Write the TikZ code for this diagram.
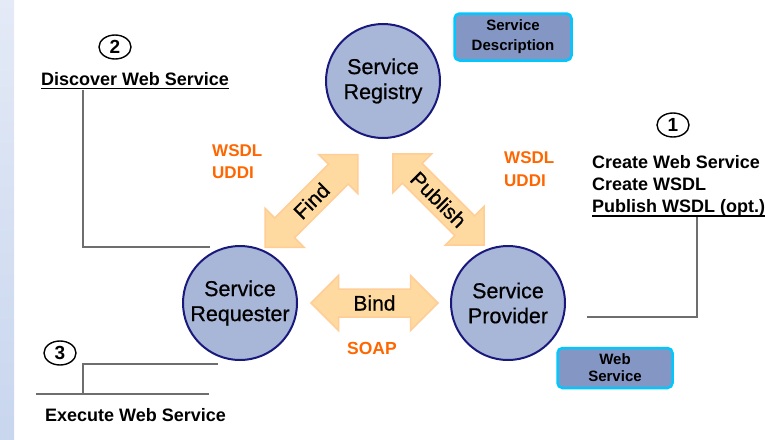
\documentclass[tikz,border=0pt]{standalone}
\usepackage{fontspec}
\setmainfont{Liberation Sans}
\newfontfamily\semifont[FakeBold=0.6]{Liberation Sans}
\usetikzlibrary{shapes.geometric}
\definecolor{navyc}{RGB}{25,25,125}
\definecolor{circfill}{RGB}{168,182,216}
\definecolor{boxfill}{RGB}{132,150,196}
\definecolor{cyanb}{RGB}{0,200,255}
\definecolor{orangec}{RGB}{255,102,0}
\definecolor{linegray}{RGB}{110,110,110}
\definecolor{arrowfill}{RGB}{255,218,160}
\definecolor{arrowdraw}{RGB}{255,205,150}
\definecolor{striptop}{RGB}{228,234,246}
\definecolor{stripbot}{RGB}{200,214,238}
\newcommand{\myDblArrow}[5]{%
  \begin{scope}[shift={#1}, rotate=#2]
    \path[arrowshape] (-#3,0) -- (-#3+27.5,-27.5) -- (-#3+27.5,-14) -- (#3-27.5,-14)
      -- (#3-27.5,-27.5) -- (#3,0) -- (#3-27.5,27.5) -- (#3-27.5,14)
      -- (-#3+27.5,14) -- (-#3+27.5,27.5) -- cycle;
    \node[arrowtext, rotate=#2] (#5) at (0,0) {#4};
  \end{scope}}
\begin{document}
\begin{tikzpicture}[x=1pt,y=-1pt,
  circ/.style={circle, draw=navyc, line width=2pt, fill=circfill, minimum size=114pt,
    inner sep=0pt, align=center, font=\semifont\fontsize{21.5}{25}\selectfont},
  descbox/.style={draw=cyanb, line width=2.5pt, fill=boxfill, rounded corners=5pt,
    align=center, inner sep=0pt},
  numell/.style={ellipse, draw=black, line width=1.4pt, minimum width=32pt,
    minimum height=24pt, inner sep=0pt, font=\bfseries\fontsize{19}{19}\selectfont},
  lbl/.style={font=\bfseries\fontsize{18}{22}\selectfont, inner sep=0pt},
  orng/.style={text=orangec, font=\bfseries\fontsize{17}{22}\selectfont, inner sep=0pt},
  conn/.style={draw=linegray, line width=1.6pt},
  uline/.style={draw=black, line width=1.2pt},
  arrowshape/.style={fill=arrowfill, draw=arrowdraw, line width=1.5pt, line join=miter},
  arrowtext/.style={font=\semifont\fontsize{21}{21}\selectfont, inner sep=0pt}]
\useasboundingbox (0,0) rectangle (765,439);
\shade[top color=striptop, bottom color=stripbot] (0,0) rectangle (14,439);

% circles
\node[circ] (reg) at (383,81) {Service\\Registry};
\node[circ] (req) at (240,303) {Service\\Requester};
\node[circ] (prov) at (508,303) {Service\\Provider};

% boxes
\node[descbox, minimum width=117pt, minimum height=47pt,
  font=\bfseries\fontsize{15}{20}\selectfont] (desc) at (513,37) {Service\\Description};
\node[descbox, minimum width=115pt, minimum height=40pt,
  font=\bfseries\fontsize{15}{17}\selectfont] (ws) at (615,368) {Web\\Service};

% arrows
\myDblArrow{(374.5,303)}{0}{63.5}{Bind}{bind}
\myDblArrow{(311.5,201)}{45}{65.5}{Find}{find}
\myDblArrow{(438.5,199.5)}{-45}{64.5}{Publish}{publish}

% orange labels
\node[orng, anchor=base west] (wsdlL) at (212,156) {WSDL};
\node[orng, anchor=base west] (uddiL) at (212,178) {UDDI};
\node[orng, anchor=base west] (wsdlR) at (504,163) {WSDL};
\node[orng, anchor=base west] (uddiR) at (504,186) {UDDI};
\node[orng, anchor=base west, font=\bfseries\fontsize{17.5}{22}\selectfont] (soap) at (347,354) {SOAP};

% step 2
\node[numell] (n2) at (115,47) {2};
\node[lbl, anchor=base west] (disc) at (41,85.5) {Discover Web Service};
\draw[uline] ([yshift=-3pt]disc.base west) -- ([yshift=-3pt]disc.base east);
\coordinate (c2a) at (83,89.5);
\coordinate (c2b) at (210,247);
\draw[conn] (c2a) |- (c2b);

% step 1
\node[numell] (n1) at (673,125) {1};
\node[lbl, anchor=base west] (cw1) at (592,168.5) {Create Web Service};
\node[lbl, anchor=base west] (cw2) at (592,190.5) {Create WSDL};
\node[lbl, anchor=base west] (cw3) at (592,212.5) {Publish WSDL (opt.)};
\draw[uline] ([yshift=-3.5pt]cw3.base west) -- ([yshift=-3.5pt]cw3.base east);
\coordinate (c1a) at (697,216.5);
\coordinate (c1b) at (587,317);
\draw[conn] (c1a) |- (c1b);

% step 3
\node[numell] (n3) at (60,353) {3};
\node[lbl, anchor=base west] (exe) at (45,421.5) {Execute Web Service};
\coordinate (c3a) at (36,394);
\coordinate (c3b) at (209,394);
\coordinate (c3c) at (83,394);
\coordinate (c3d) at (218,364);
\draw[conn] (c3a) -- (c3b);
\draw[conn] (c3c) |- (c3d);
\end{tikzpicture}
\end{document}
